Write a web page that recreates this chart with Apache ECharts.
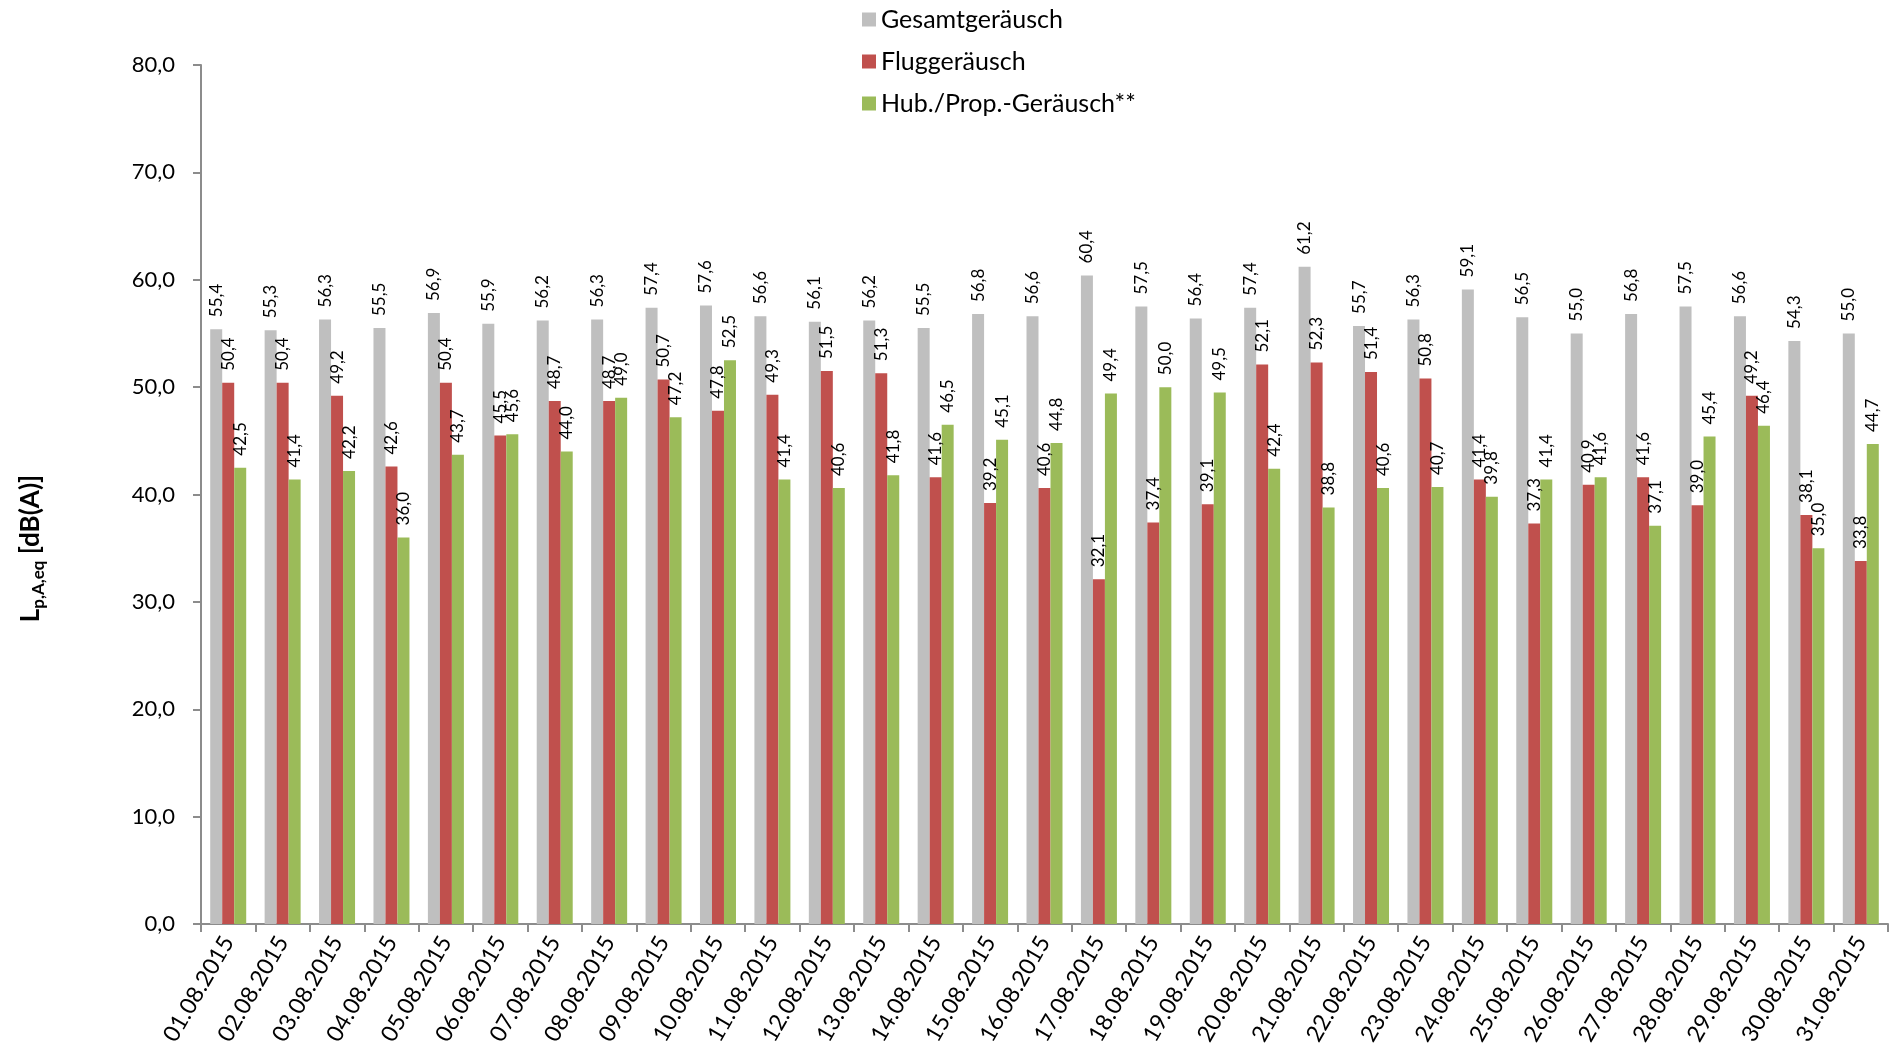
<!DOCTYPE html>
<html>
<head>
<meta charset="utf-8">
<title>Lärmpegel August 2015</title>
<script src="https://cdn.jsdelivr.net/npm/echarts@6.0.0/dist/echarts.min.js"></script>
<style>
  html, body { margin: 0; padding: 0; background: #fff; }
  #chart { width: 1890px; height: 1062px; }
</style>
</head>
<body>
<div id="chart"></div>
<script>
// Tage
var days = [
  '01.08.2015', '02.08.2015', '03.08.2015', '04.08.2015', '05.08.2015', '06.08.2015',
  '07.08.2015', '08.08.2015', '09.08.2015', '10.08.2015', '11.08.2015', '12.08.2015',
  '13.08.2015', '14.08.2015', '15.08.2015', '16.08.2015', '17.08.2015', '18.08.2015',
  '19.08.2015', '20.08.2015', '21.08.2015', '22.08.2015', '23.08.2015', '24.08.2015',
  '25.08.2015', '26.08.2015', '27.08.2015', '28.08.2015', '29.08.2015', '30.08.2015',
  '31.08.2015'
];
var seriesNames = ['Gesamtgeräusch', 'Fluggeräusch', 'Hub./Prop.-Geräusch**'];
var gesamt = [55.4, 55.3, 56.3, 55.5, 56.9, 55.9, 56.2, 56.3, 57.4, 57.6, 56.6, 56.1, 56.2, 55.5, 56.8, 56.6,
              60.4, 57.5, 56.4, 57.4, 61.2, 55.7, 56.3, 59.1, 56.5, 55.0, 56.8, 57.5, 56.6, 54.3, 55.0];
var flug = [50.4, 50.4, 49.2, 42.6, 50.4, 45.5, 48.7, 48.7, 50.7, 47.8, 49.3, 51.5, 51.3, 41.6, 39.2, 40.6,
            32.1, 37.4, 39.1, 52.1, 52.3, 51.4, 50.8, 41.4, 37.3, 40.9, 41.6, 39.0, 49.2, 38.1, 33.8];
var hubProp = [42.5, 41.4, 42.2, 36.0, 43.7, 45.6, 44.0, 49.0, 47.2, 52.5, 41.4, 40.6, 41.8, 46.5, 45.1, 44.8,
               49.4, 50.0, 49.5, 42.4, 38.8, 40.6, 40.7, 39.8, 41.4, 41.6, 37.1, 45.4, 46.4, 35.0, 44.7];
var colors = ['#BFBFBF', '#C0504D', '#9BBB59'];

var fontFamily = 'Lato, "Open Sans", sans-serif';

function komma(v) {
  return Number(v).toFixed(1).replace('.', ',');
}

function barSeries(name, data, color) {
  return {
    name: name,
    type: 'bar',
    data: data,
    barWidth: 12,
    barGap: '0%',
    barCategoryGap: '34%',
    itemStyle: { color: color },
    label: {
      show: true,
      position: 'top',
      distance: 12,
      rotate: 90,
      align: 'left',
      verticalAlign: 'middle',
      fontFamily: fontFamily,
      fontSize: 17,
      color: '#000',
      formatter: function (p) { return komma(p.value); }
    },
    emphasis: { disabled: true },
    animation: false
  };
}

var myChart = echarts.init(document.getElementById('chart'));
var option = {
  color: colors,
  textStyle: { fontFamily: fontFamily },
  legend: {
    orient: 'vertical',
    left: 857,
    top: 2,
    itemWidth: 14,
    itemHeight: 14,
    itemGap: 17,
    icon: 'rect',
    data: seriesNames,
    textStyle: { fontFamily: fontFamily, fontSize: 25, color: '#000', lineHeight: 24 }
  },
  grid: { left: 201, right: 2, top: 65, bottom: 138 },
  xAxis: {
    type: 'category',
    data: days,
    axisLine: { lineStyle: { color: '#8C8C8C', width: 2 } },
    axisTick: { show: true, length: 8, lineStyle: { color: '#8C8C8C', width: 2 } },
    axisLabel: {
      interval: 0,
      rotate: 60,
      margin: 14,
      fontFamily: fontFamily,
      fontSize: 23,
      color: '#000'
    }
  },
  yAxis: {
    type: 'value',
    min: 0,
    max: 80,
    interval: 10,
    splitLine: { show: false },
    axisLine: { show: true, lineStyle: { color: '#8C8C8C', width: 2 } },
    axisTick: { show: true, length: 8, lineStyle: { color: '#8C8C8C', width: 2 } },
    axisLabel: {
      margin: 26,
      fontFamily: fontFamily,
      fontSize: 22,
      color: '#000',
      formatter: komma
    },
    name: '{l|L}{s|p,A,eq}{l| [dB(A)]}',
    nameLocation: 'middle',
    nameRotate: 90,
    nameGap: 154,
    nameTextStyle: {
      padding: [0, 108, 0, 0],
      rich: {
        l: { fontFamily: fontFamily, fontSize: 26, fontWeight: 'bold', color: '#000', lineHeight: 32, verticalAlign: 'middle' },
        s: { fontFamily: fontFamily, fontSize: 17, fontWeight: 'bold', color: '#000', lineHeight: 32, verticalAlign: 'bottom' }
      }
    }
  },
  series: [
    barSeries(seriesNames[0], gesamt, colors[0]),
    barSeries(seriesNames[1], flug, colors[1]),
    barSeries(seriesNames[2], hubProp, colors[2])
  ]
};
myChart.setOption(option);
window.addEventListener('resize', myChart.resize);
</script>
</body>
</html>
